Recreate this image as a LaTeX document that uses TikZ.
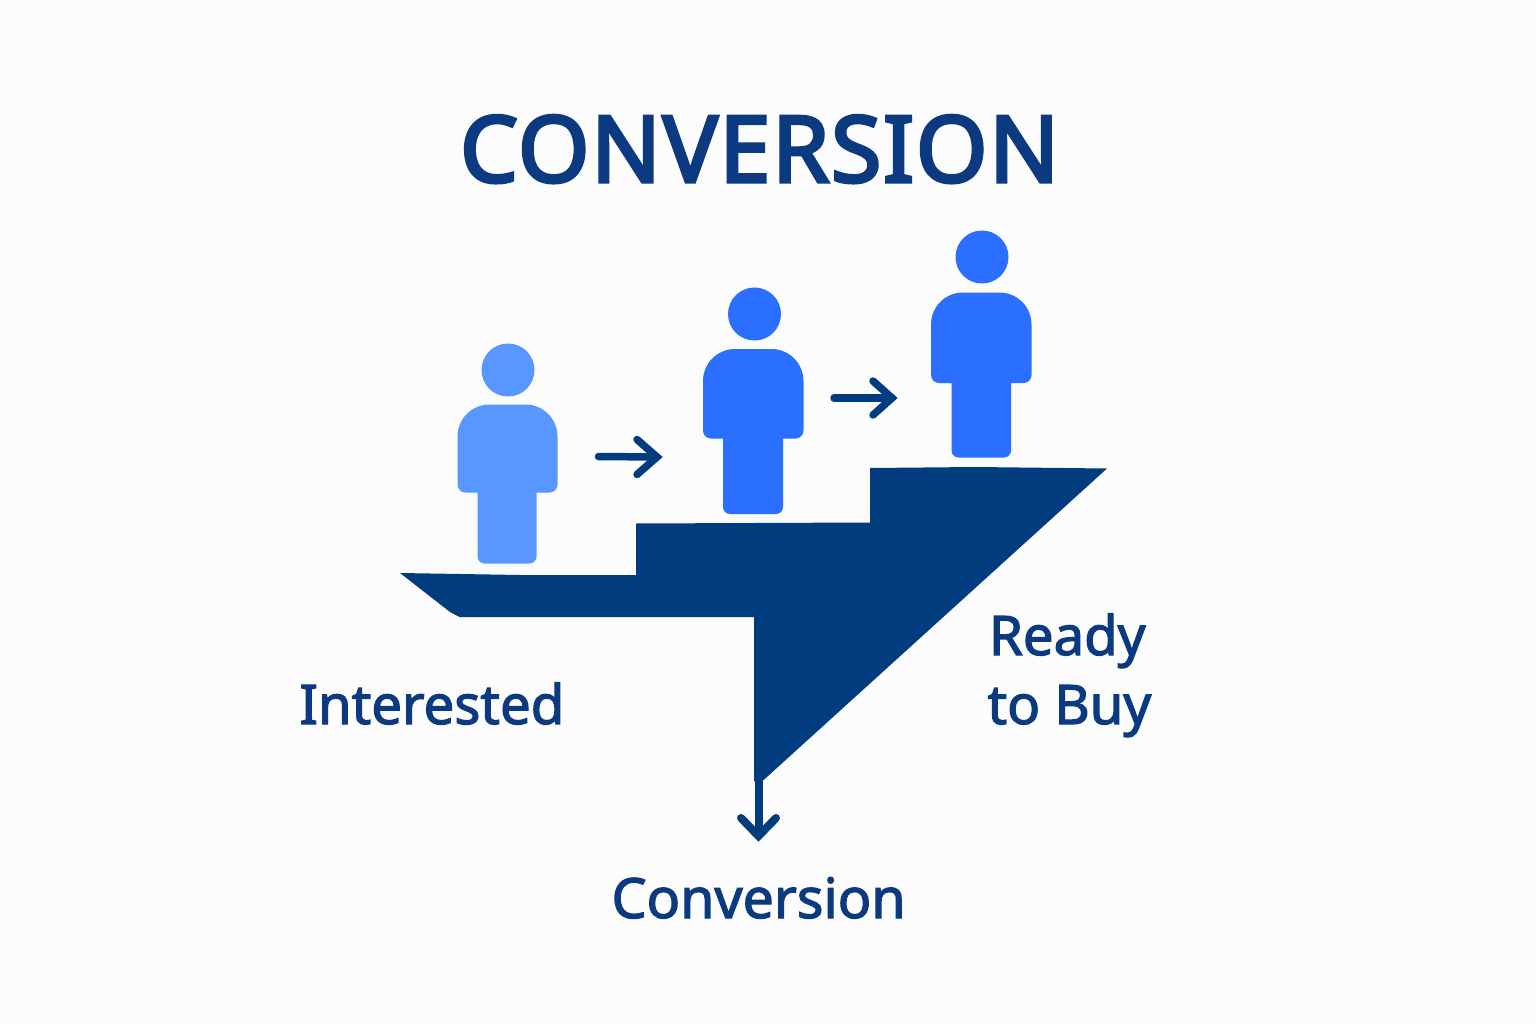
\documentclass[tikz,border=0pt]{standalone}
\usepackage{fontspec}
\usetikzlibrary{calc}
\setmainfont{Noto Sans}
\newfontfamily\titlefont[FakeBold=3.5,LetterSpace=1.7]{Noto Sans}
\newfontfamily\labelfont[FakeBold=2.2]{Noto Sans}
\definecolor{bgc}{HTML}{FCFCFC}
\definecolor{navy}{HTML}{003C7E}
\definecolor{inknavy}{HTML}{0B3A80}
\definecolor{lightblue}{HTML}{5797FF}
\definecolor{midblue}{HTML}{2A6FFF}
\tikzset{
  lbl/.style={anchor=base west,inner sep=0pt,outer sep=0pt,text=inknavy,font=\labelfont\fontsize{54.5}{56}\selectfont},
  lblwide/.style={lbl,font=\labelfont\fontsize{55.5}{56}\selectfont},
  ttl/.style={anchor=base,inner sep=0pt,outer sep=0pt,text=inknavy,font=\titlefont\fontsize{92}{94}\selectfont},
  flow/.style={navy,line width=7.5pt,line cap=round,line join=miter,miter limit=10},
}
\newcommand{\drawperson}[9]{%
  \fill[#1] (#2,#3) circle[radius=26.5];
  \fill[#1] (#6,#9) -- (#4+8,#9) arc[start angle=90,end angle=180,radius=8]
    -- (#4,#8+32) arc[start angle=180,end angle=270,radius=32]
    -- (#5-32,#8) arc[start angle=270,end angle=360,radius=32]
    -- (#5,#9-8) arc[start angle=0,end angle=90,radius=8]
    -- (#7,#9) -- (#7,\legbottom-7) arc[start angle=0,end angle=90,radius=7]
    -- (#6+7,\legbottom) arc[start angle=90,end angle=180,radius=7] -- cycle;
}
\begin{document}
\begin{tikzpicture}[x=1pt,y=-1pt]
\useasboundingbox (0,0) rectangle (1536,1024);
\fill[bgc] (0,0) rectangle (1536,1024);

\node[ttl] (title) at (759.5,182) {CONVERSION};

% people
\def\legbottom{563.5}
\drawperson{lightblue}{508}{370}{457.5}{557.5}{477.5}{536.5}{404.5}{492.5}
\def\legbottom{514}
\drawperson{midblue}{754.5}{314}{703}{803.5}{723}{783}{349}{438.5}
\def\legbottom{457.5}
\drawperson{midblue}{982}{257}{931}{1031.5}{951.5}{1011}{292.5}{383}

% staircase
\fill[navy] (400,573) -- (520,575) -- (636,575) -- (636,523.5) -- (870,522.5) -- (870,468)
  -- (976,467) -- (1107,468.5) -- (762.5,781) -- (754,781) -- (754,617) -- (459.5,617)
  -- (450,612) -- cycle;

% named ends of the connectors
\coordinate (a1s) at (598.5,456.5);
\coordinate (a1t) at (657,457);
\coordinate (a2s) at (834,398);
\coordinate (a2t) at (892,398);
\coordinate (a3s) at (758.5,778);
\coordinate (a3t) at (758.5,836);

\draw[flow] (a1s) -- (a1t);
\draw[flow] ($(a1t)+(-20,-17.5)$) -- (a1t) -- ($(a1t)+(-20,17.5)$);
\draw[flow] (a2s) -- (a2t);
\draw[flow] ($(a2t)+(-19,-17)$) -- (a2t) -- ($(a2t)+(-19,17)$);
\draw[navy,line width=8pt] (a3s) -- (a3t);
\draw[flow,line width=8pt] ($(a3t)+(-17.5,-18)$) -- (a3t) -- ($(a3t)+(17.5,-18)$);

% labels
\node[lbl] (interested) at (299.5,724) {Interested};
\node[lbl] (ready) at (989,655) {Ready};
\node[lbl] (tobuy) at (987.5,724) {to Buy};
\node[lblwide] (conv) at (611.5,918) {Conversion};
\end{tikzpicture}
\end{document}
